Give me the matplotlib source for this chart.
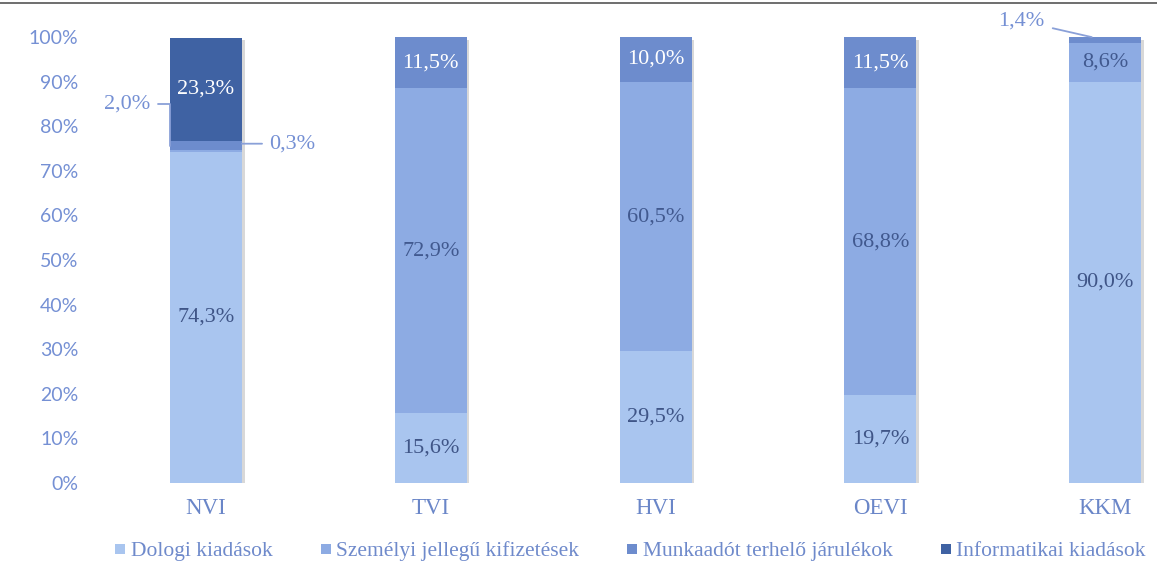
import matplotlib
matplotlib.use("Agg")
import matplotlib.pyplot as plt
from matplotlib.lines import Line2D
import numpy as np

categories = ["NVI", "TVI", "HVI", "OEVI", "KKM"]
series_names = ["Dologi kiadások", "Személyi jellegű kifizetések",
                "Munkaadót terhelő járulékok", "Informatikai kiadások"]
dologi = [74.3, 15.6, 29.5, 19.7, 90.0]
szemelyi = [0.3, 72.9, 60.5, 68.8, 8.6]
munkaadot = [2.0, 11.5, 10.0, 11.5, 1.4]
informatikai = [23.3, 0.0, 0.0, 0.0, 0.0]
yticks = [0, 10, 20, 30, 40, 50, 60, 70, 80, 90, 100]

series = [dologi, szemelyi, munkaadot, informatikai]
colors = ["#a9c5ef", "#8dabe3", "#6d8ccd", "#3f62a3"]
label_colors = ["#3f5587", "#41598f", "#ffffff", "#ffffff"]

fig = plt.figure(figsize=(11.57, 5.67), dpi=100)
ax = fig.add_axes([0.0821, 0.1481, 0.912, 0.834])

x = np.arange(len(categories))
width = 0.32
bottom = np.zeros(len(categories))
serif = ["Liberation Serif", "DejaVu Serif"]
txtblue = "#7590d4"

def fmt(v):
    return f"{v:.1f}%".replace(".", ",")

for si, vals in enumerate(series):
    vals = np.array(vals)
    # subtle shadow
    ax.bar(x + 0.012, vals, width, bottom=bottom - 0.6, color="#d8d8d8", zorder=1,
           linewidth=0)
    ax.bar(x, vals, width, bottom=bottom, color=colors[si], label=series_names[si],
           zorder=2, linewidth=0)
    for i, v in enumerate(vals):
        if v <= 0:
            continue
        mid = bottom[i] + v / 2
        if v >= 5:
            ax.text(x[i], mid, fmt(v), ha="center", va="center", fontsize=16,
                    family=serif, color=label_colors[si], zorder=3)
    bottom = bottom + vals

# small-value labels with leader lines
cum = np.cumsum(np.array(series), axis=0)
# NVI Munkaadót (2,0%) on the left
i = 0
top_m = cum[2][i]
ax.annotate(fmt(munkaadot[i]), xy=(x[i] - width / 2, top_m - munkaadot[i] / 2),
            xytext=(x[i] - 0.25, top_m + 8.5), ha="right", va="center",
            fontsize=16, family=serif, color=txtblue,
            arrowprops=dict(arrowstyle="-", color="#8aa0d8", lw=1.3,
                            connectionstyle="angle,angleA=0,angleB=90,rad=0",
                            shrinkA=4, shrinkB=0), zorder=4)
# NVI Személyi (0,3%) on the right
top_s = cum[1][i]
ax.annotate(fmt(szemelyi[i]), xy=(x[i] + width / 2, top_s + 1.5),
            xytext=(x[i] + 0.28, top_s + 1.5), ha="left", va="center",
            fontsize=16, family=serif, color=txtblue,
            arrowprops=dict(arrowstyle="-", color="#8aa0d8", lw=1.3,
                            shrinkA=3, shrinkB=0), zorder=4)
# KKM Munkaadót (1,4%) above left
i = 4
top_k = cum[2][i]
ax.annotate(fmt(munkaadot[i]), xy=(x[i] - 0.06, top_k),
            xytext=(x[i] - 0.27, top_k + 3.6), ha="right", va="center",
            fontsize=16, family=serif, color=txtblue,
            arrowprops=dict(arrowstyle="-", color="#8aa0d8", lw=1.3,
                            shrinkA=4, shrinkB=0), zorder=4)

ax.set_xlim(-0.494, 4.2)
ax.set_ylim(0, 106.05)
ax.set_yticks(yticks)
ax.set_yticklabels([f"{t}%" for t in yticks], family=["Lato", "DejaVu Sans"],
                   fontsize=14, color=txtblue)
ax.set_xticks(x)
ax.set_xticklabels(categories, family=serif, fontsize=16.5, color="#6a86c8")
ax.tick_params(axis="both", length=0)
ax.tick_params(axis="y", pad=12)
ax.tick_params(axis="x", pad=11)
for s in ax.spines.values():
    s.set_visible(False)

handles = [Line2D([0], [0], marker="s", linestyle="none", markersize=7,
                  markerfacecolor=c, markeredgewidth=0) for c in colors]
leg = fig.legend(handles, series_names, loc="center", ncol=4,
                 bbox_to_anchor=(0.543, 0.028), frameon=False,
                 prop={"family": serif, "size": 15.5}, handletextpad=0.05,
                 columnspacing=2.0, handlelength=0.9, borderaxespad=0,
                 borderpad=0)
for t in leg.get_texts():
    t.set_color("#6f8acb")

fig.add_artist(Line2D([0, 1], [0.995, 0.995], color="#555555", lw=1.2,
                      transform=fig.transFigure))

fig.savefig("out.png", dpi=100)
